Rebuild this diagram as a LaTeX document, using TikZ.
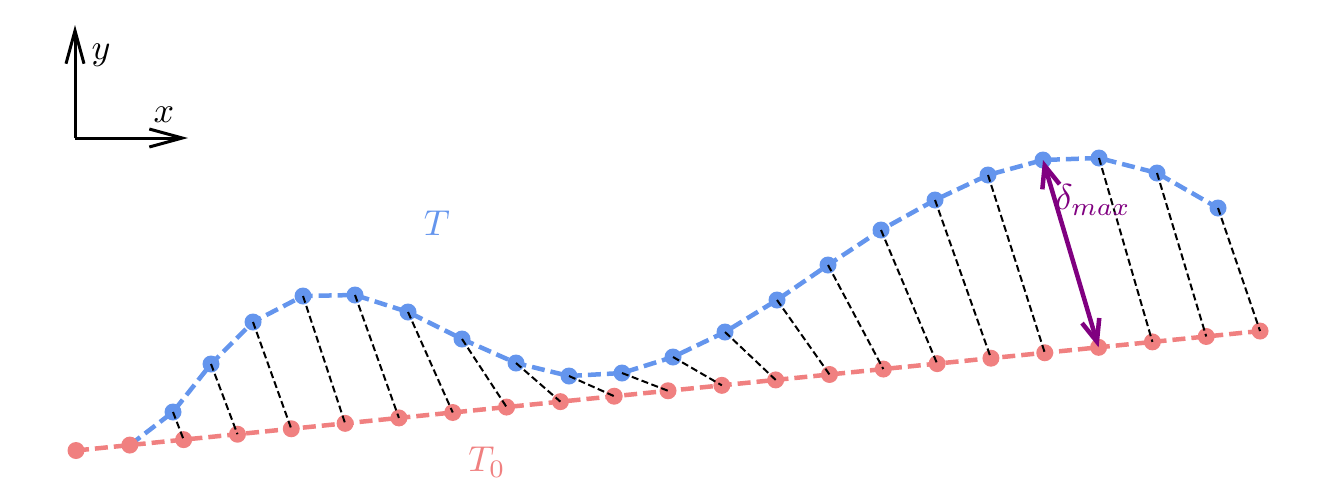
\documentclass[tikz,border=0pt]{standalone}
\usepackage{graphicx}
\usetikzlibrary{arrows.meta}
\definecolor{tblue}{RGB}{100,149,237}
\definecolor{tred}{RGB}{240,128,128}
\definecolor{tpurple}{RGB}{128,0,128}
\newcommand{\figlabel}[1]{\scalebox{3.6}{$#1$}}
\tikzset{
  rdot/.style={circle,fill=tred,inner sep=0pt,minimum size=17pt},
  bdot/.style={circle,fill=tblue,inner sep=0pt,minimum size=17pt},
  rline/.style={draw=tred,line width=4.5pt,dash pattern=on 13pt off 6pt},
  bline/.style={draw=tblue,line width=4.5pt,dash pattern=on 13pt off 6pt},
  link/.style={draw=black,line width=2pt,dash pattern=on 7pt off 3.5pt},
  axis/.style={draw=black,line width=3pt,-{Straight Barb[length=33pt,width=18pt,line width=3pt]}},
  dmax/.style={draw=tpurple,line width=4.5pt,{Straight Barb[length=22pt,width=18pt,line width=4.5pt]}-{Straight Barb[length=22pt,width=18pt,line width=4.5pt]}},
  lbl/.style={inner sep=0pt}
}
\begin{document}
\begin{tikzpicture}[x=1pt,y=-1pt]
\useasboundingbox (0,0) rectangle (1329,491);
% red points
\foreach \i in {0,...,22}{
  \coordinate (r\i) at ({76+53.82*\i},{450.5-5.43*\i});
}
% blue points
\foreach \x/\y [count=\j from 0] in {173/412,211/364,253/322,303/296,355/295,408/312,462/339,516/363,569/376,622/373,673/357,725/332,777/300,828/265,881/230,935/200,988/175,1043/160,1099/158,1157/173,1218/208}{
  \coordinate (b\j) at (\x,\y);
}
% curves
\draw[rline] (r0) \foreach \i in {1,...,22}{ -- (r\i)};
\draw[bline] (r1) \foreach \j in {0,...,20}{ -- (b\j)};
% dots
\foreach \i in {0,...,22}{ \node[rdot] (rd\i) at (r\i) {}; }
\foreach \j in {0,...,20}{ \node[bdot] (bd\j) at (b\j) {}; }
% links
\foreach \j [evaluate=\j as \k using int(\j+2)] in {0,...,16,18,19,20}{
  \draw[link] (b\j) -- (r\k);
}
% delta max
\draw[dmax] (b17) -- (r19);
\node[lbl,text=tpurple] (dl) at (1093,200) {\figlabel{\delta_{max}}};
% labels
\node[lbl,text=tblue] (tl) at (437,223) {\figlabel{T}};
\node[lbl,text=tred] (t0l) at (487,462) {\figlabel{T_0}};
% axes
\coordinate (o) at (75,138);
\coordinate (xe) at (188,138);
\coordinate (ye) at (75,25);
\draw[axis] (o) -- (xe);
\draw[axis] (o) -- (ye);
\node[lbl] (yl) at (101,55) {\figlabel{y}};
\node[lbl] (xl) at (164,115) {\figlabel{x}};
\end{tikzpicture}
\end{document}
